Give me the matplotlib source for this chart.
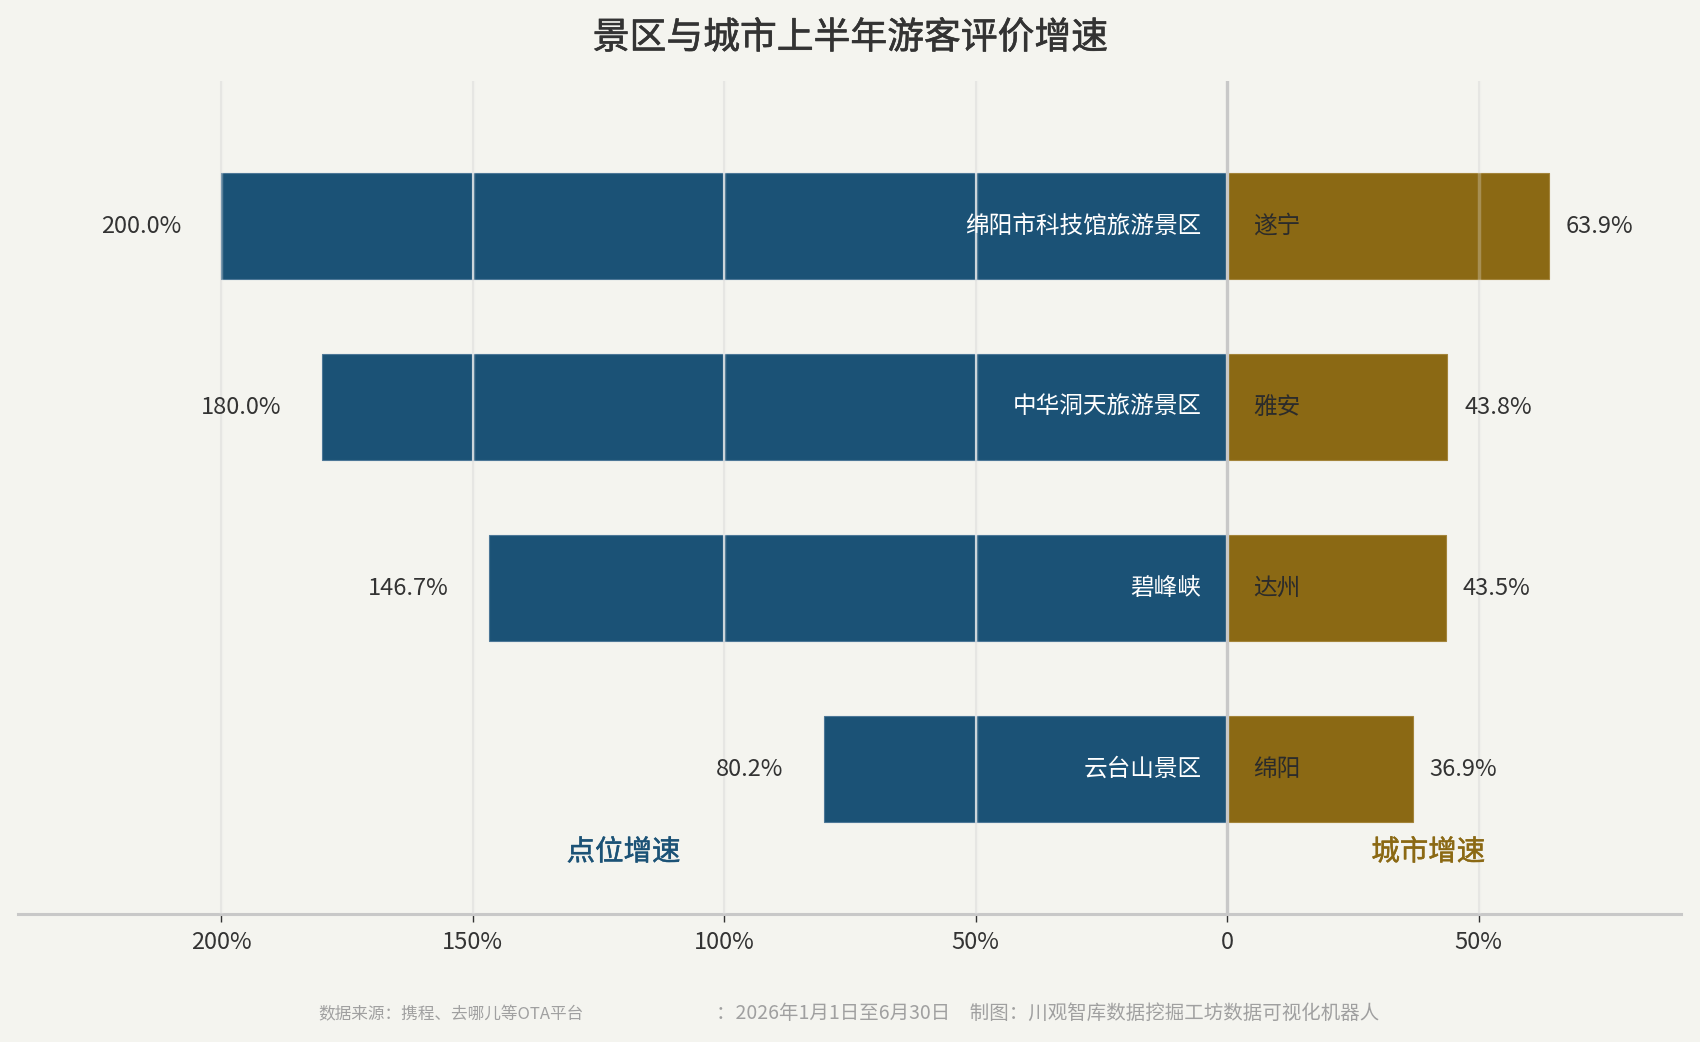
import matplotlib
matplotlib.use("Agg")
import matplotlib.pyplot as plt
import matplotlib.patheffects as pe
import numpy as np

plt.rcParams['font.family'] = ['Noto Sans CJK SC', 'DejaVu Sans']

# ---- data ----
spots = ["绵阳市科技馆旅游景区", "中华洞天旅游景区", "碧峰峡", "云台山景区"]
spot_growth = [200.0, 180.0, 146.7, 80.2]
cities = ["遂宁", "雅安", "达州", "绵阳"]
city_growth = [63.9, 43.8, 43.5, 36.9]
tick_values = [-200, -150, -100, -50, 0, 50]
tick_labels = ["200%", "150%", "100%", "50%", "0", "50%"]

BG = "#f4f4ef"
BLUE = "#1b5276"
GOLD = "#8b6914"

fig = plt.figure(figsize=(17, 10.42), dpi=100, facecolor=BG)
ax = fig.add_axes([0.0106, 0.123, 0.9784, 0.799])
ax.set_facecolor(BG)

y = np.arange(len(spots))
h = 0.59
left_vals = -np.array(spot_growth)
right_vals = np.array(city_growth)

ax.barh(y, left_vals, height=h, color=BLUE, edgecolor="#4d7797", linewidth=0.8, zorder=2)
ax.barh(y, right_vals, height=h, color=GOLD, edgecolor="#a3843a", linewidth=0.8, zorder=2)

# grid
for t in tick_values:
    if t == 0:
        continue
    ax.axvline(t, color="#e4e4e0", lw=1.2, zorder=1)
    ax.axvline(t, color="#e8e8e8", lw=2.5, alpha=0.3, zorder=3)
# white lines on blue bars
for yi, v in zip(y, left_vals):
    for t in tick_values:
        if v < t < 0:
            ax.plot([t, t], [yi - h / 2, yi + h / 2], color="#f0f0f0", lw=1.1, zorder=3.5)

ax.axvline(0, color="#c8c8c8", lw=2.4, zorder=4)

# labels
for yi, name, v in zip(y, spots, left_vals):
    ax.annotate(name, (0, yi), xytext=(-18.5, 0), textcoords="offset points",
                ha="right", va="center", color="white", fontsize=17, zorder=5)
    ax.annotate(f"{-v:.1f}%", (v, yi), xytext=(-29, 0), textcoords="offset points",
                ha="right", va="center", color="#333333", fontsize=17, zorder=5)
for yi, name, v in zip(y, cities, right_vals):
    ax.annotate(name, (0, yi), xytext=(19, 0), textcoords="offset points",
                ha="left", va="center", color="#2b2b2b", fontsize=17, zorder=5)
    ax.annotate(f"{v:.1f}%", (v, yi), xytext=(12, 0), textcoords="offset points",
                ha="left", va="center", color="#333333", fontsize=17, zorder=5)

ax.text(-120, 3.46, "点位增速", color=BLUE, fontsize=20.5, ha="center", va="center",
        path_effects=[pe.withStroke(linewidth=0.35, foreground=BLUE)])
ax.text(40, 3.46, "城市增速", color=GOLD, fontsize=20.5, ha="center", va="center",
        path_effects=[pe.withStroke(linewidth=0.35, foreground=GOLD)])

ax.set_xlim(-240.4, 90.3)
ax.set_ylim(3.8, -0.8)
ax.set_yticks([])
ax.set_xticks(tick_values)
ax.set_xticklabels(tick_labels, fontsize=17, color="#333333")
ax.tick_params(axis="x", length=6, width=1, color="#333333", pad=6)
for s in ["top", "left", "right"]:
    ax.spines[s].set_visible(False)
ax.spines["bottom"].set_color("#c8c8c8")
ax.spines["bottom"].set_linewidth(2.2)

fig.text(0.5, 0.9635, "景区与城市上半年游客评价增速", ha="center", va="center",
         fontsize=26.5, color="#333333",
         path_effects=[pe.withStroke(linewidth=0.45, foreground="#333333")])
fig.text(451 / 1700, 1 - 1015 / 1042, "数据来源：携程、去哪儿等OTA平台", ha="center", va="center",
         fontsize=12, color="#a0a0a0")
fig.text(716 / 1700, 1 - 1013 / 1042, "：2026年1月1日至6月30日　制图：川观智库数据挖掘工坊数据可视化机器人",
         ha="left", va="center", fontsize=14, color="#a0a0a0")

fig.savefig("out.png", dpi=100, facecolor=BG)
